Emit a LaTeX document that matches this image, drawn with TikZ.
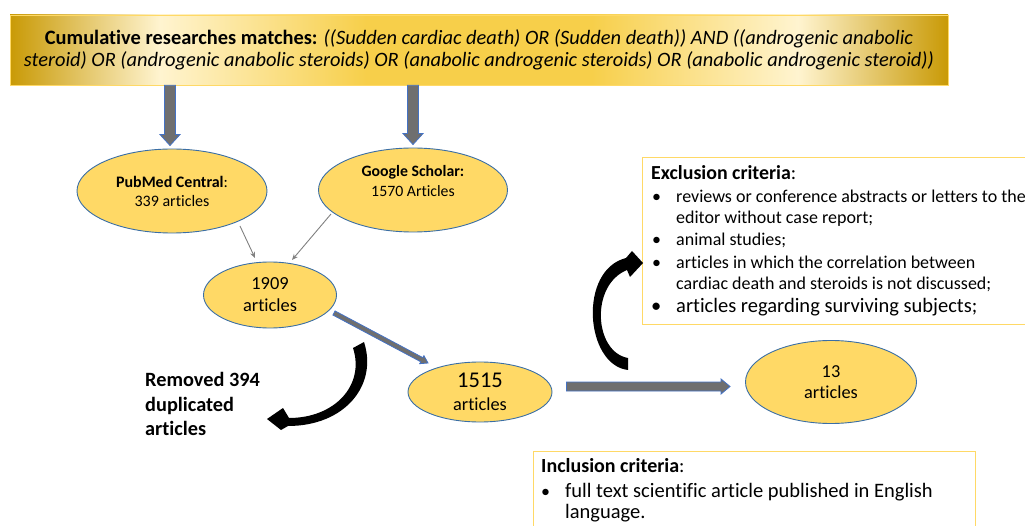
\documentclass[tikz,border=0pt]{standalone}
\usepackage{fontspec}
\setmainfont{Carlito}[Ligatures=NoCommon]
\usetikzlibrary{shapes.geometric,calc,arrows.meta}
\definecolor{dkgold}{HTML}{C99A06}
\definecolor{ltgold}{HTML}{FFF4D0}
\definecolor{midgold}{HTML}{F7CF4A}
\definecolor{ellfill}{HTML}{FFD966}
\definecolor{ellline}{HTML}{3A6EA5}
\definecolor{fatfill}{HTML}{6F6F6F}
\definecolor{fatline}{HTML}{4472C4}
\definecolor{boxline}{HTML}{FFD966}
\definecolor{thingray}{HTML}{808080}
\pgfdeclarehorizontalshading{titleshade}{100bp}{color(0bp)=(dkgold); color(25bp)=(dkgold); color(33bp)=(ltgold); color(44bp)=(midgold); color(56bp)=(midgold); color(67bp)=(ltgold); color(75bp)=(dkgold); color(100bp)=(dkgold)}
\newcommand{\fatarrow}[6]{%
  \coordinate (fab) at ($(#3)!#6!(#2)$);
  \draw[#1] ($(#2)!#4!90:(fab)$) -- ($(fab)!#4!-90:(#2)$) -- ($(fab)!#5!-90:(#2)$) -- (#3) -- ($(fab)!#5!90:(#2)$) -- ($(fab)!#4!90:(#2)$) -- ($(#2)!#4!-90:(fab)$) -- cycle;
}
\begin{document}
\begin{tikzpicture}[x=1pt,y=-1pt,
  ell/.style={ellipse, draw=ellline, line width=0.9pt, fill=ellfill, inner sep=0pt, align=center},
  fat/.style={fill=fatfill, draw=fatline, line width=0.8pt, line join=miter},
  thinarr/.style={draw=thingray, line width=0.9pt, -{Stealth[length=6pt,width=5pt]}},
  line/.style={anchor=base west, inner sep=0pt},
  critbox/.style={draw=boxline, line width=1.1pt, fill=white}
]
\useasboundingbox (0,0) rectangle (1025,526);
% title
\node[shading=titleshade, draw=boxline, line width=0.6pt, minimum width=938pt, minimum height=70pt, inner sep=0pt, align=center, font=\fontsize{20.4}{22.5}\selectfont] (title) at (479,50)
 {\textbf{Cumulative researches matches:} \textit{((Sudden cardiac death) OR (Sudden death)) AND ((androgenic anabolic}\\
  \textit{steroid) OR (androgenic anabolic steroids) OR (anabolic androgenic steroids) OR (anabolic androgenic steroid))}};
% ellipses
\node[ell, minimum width=190pt, minimum height=84pt, font=\fontsize{16}{19}\selectfont] (pub) at (172,191) {\textbf{PubMed Central}:\\339 articles};
\node[ell, minimum width=189pt, minimum height=84pt] (goo) at (413,190) {};
\node[font=\fontsize{15.8}{20}\selectfont, align=center, inner sep=0pt] (gootext) at (413,181) {\textbf{Google Scholar:}\\1570 Articles};
\node[ell, minimum width=133pt, minimum height=66pt, font=\fontsize{18.4}{22}\selectfont] (n1909) at (270,295) {1909\\articles};
\node[ell, minimum width=144pt, minimum height=60pt, font=\fontsize{18.3}{23}\selectfont] (n1515) at (480,392) {{\fontsize{22.5}{23}\selectfont 1515}\\articles};
\node[ell, minimum width=171pt, minimum height=83pt, font=\fontsize{18.3}{21}\selectfont] (n13) at (831,382) {13\\articles};
% fat arrows
\coordinate (a1e) at ($(pub.north)+(-2,-3)$);
\coordinate (a1s) at (a1e |- title.south);
\fatarrow{fat}{a1s}{a1e}{5.5pt}{10pt}{11pt}
\coordinate (a2e) at ($(goo.north)+(0,-3)$);
\coordinate (a2s) at (a2e |- title.south);
\fatarrow{fat}{a2s}{a2e}{5.5pt}{10pt}{11pt}
\coordinate (a3s) at ($(n1909.center)+(64,18)$);
\coordinate (a3e) at ($(n1515.center)+(-52,-29)$);
\fatarrow{fat}{a3s}{a3e}{2.3pt}{4.5pt}{7pt}
\coordinate (a4s) at ($(n1515.east)+(14,-5.5)$);
\coordinate (a4e) at ($(n13.west)+(-15,4.5)$);
\fatarrow{fat}{a4s}{a4e}{4.5pt}{7.5pt}{9pt}
% thin arrows
\coordinate (t1s) at ($(pub.center)+(68,35)$);
\coordinate (t1e) at ($(n1909.center)+(-15,-37)$);
\draw[thinarr] (t1s) -- (t1e);
\coordinate (t2s) at ($(goo.center)+(-82,24)$);
\coordinate (t2e) at ($(n1909.center)+(22,-35)$);
\draw[thinarr] (t2s) -- (t2e);
% removed duplicates curved arrow
\fill[black] (364,342) .. controls (378,385) and (345,426) .. (288,426)
  -- (281,430) -- (267,419) -- (283,408) -- (289,418)
  .. controls (335,418) and (365,385) .. (353,348) -- cycle;
\node[line, font=\bfseries\fontsize{20.3}{22}\selectfont] (rem1) at (145,386) {Removed 394};
\node[line, font=\bfseries\fontsize{20.3}{22}\selectfont] (rem2) at (145,411) {duplicated};
\node[line, font=\bfseries\fontsize{20.3}{22}\selectfont] (rem3) at (145,435) {articles};
% exclusion box
\node[critbox, anchor=north west, minimum width=400pt, minimum height=167pt] (excl) at (642,157) {};
\node[line, font=\fontsize{19.9}{22}\selectfont] (ex0) at (651,180) {\textbf{Exclusion criteria}:};
\begin{scope}[font=\fontsize{18}{20}\selectfont]
\node[line] (exb1) at (652,203) {•};
\node[line] (ex1) at (676,203) {reviews or conference abstracts or letters to the};
\node[line] (ex2) at (676,224) {editor without case report;};
\node[line] (exb2) at (652,246) {•};
\node[line] (ex3) at (676,246) {animal studies;};
\node[line] (exb3) at (652,269) {•};
\node[line] (ex4) at (676,269) {articles in which the correlation between};
\node[line] (ex5) at (676,290) {cardiac death and steroids is not discussed;};
\end{scope}
\node[line, font=\fontsize{20.5}{22}\selectfont] (exb4) at (651,313) {•};
\node[line, font=\fontsize{20.5}{22}\selectfont] (ex6) at (676,313) {articles regarding surviving subjects;};
% exclusion curved arrow
\fill[black] (628,370) .. controls (585,365) and (578,270) .. (626,258)
  -- (632,251) -- (643,263) -- (630,277) -- (627,270)
  .. controls (590,285) and (594,352) .. (628,358) -- cycle;
% inclusion box
\node[critbox, anchor=north west, minimum width=442pt, minimum height=90pt] (incl) at (533,451) {};
\node[line, font=\fontsize{20}{22}\selectfont] (in0) at (541,472) {\textbf{Inclusion criteria}:};
\node[line, font=\fontsize{18}{22}\selectfont] (inb1) at (541,497) {•};
\node[line, font=\fontsize{20.5}{22}\selectfont] (in1) at (565,497) {full text scientific article published in English};
\node[line, font=\fontsize{20.5}{22}\selectfont] (in2) at (565,518) {language.};
\end{tikzpicture}
\end{document}
